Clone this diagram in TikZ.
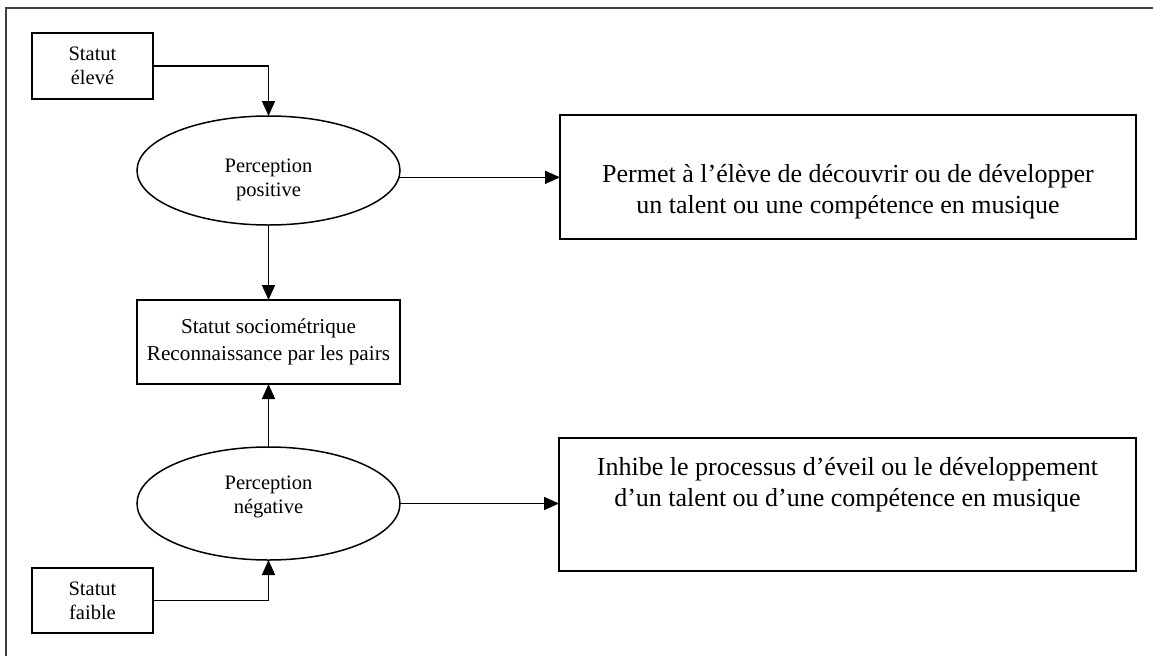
\documentclass[tikz,border=0pt]{standalone}
\usepackage{fontspec}
\setmainfont{Liberation Serif}
\usetikzlibrary{arrows.meta,shapes.geometric}
\begin{document}
\begin{tikzpicture}[x=1pt,y=-1pt,
  every node/.style={inner sep=0pt,outer sep=0pt},
  boxnode/.style={draw,line width=1.8pt,rectangle,align=center},
  ellnode/.style={draw,line width=1.5pt,ellipse},
  bigtext/.style={font=\fontsize{26}{31}\selectfont},
  midtext/.style={font=\fontsize{21.2}{27}\selectfont},
  smalltext/.style={font=\fontsize{20.5}{24}\selectfont},
  arr/.style={line width=1.6pt,-{Triangle[length=15pt,width=13pt]}},
]
\useasboundingbox (0,0) rectangle (1153,656);
\fill[white] (0,0) rectangle (1153,656);
\draw[line width=1.8pt,black!75] (6,656) -- (6,8) -- (1153,8);

% nodes
\node[boxnode,smalltext,minimum width=121pt,minimum height=66pt] (se) at (92.5,66) {Statut\\élevé};
\node[boxnode,smalltext,minimum width=121pt,minimum height=65pt] (sf) at (92.5,600.5) {Statut\\faible};
\node[ellnode,minimum width=263pt,minimum height=109pt] (pp) at (268.5,170.5) {};
\node[smalltext,align=center] (ppt) at (268.5,180) {Perception\\positive};
\node[ellnode,minimum width=263pt,minimum height=113pt] (pn) at (268.5,503.5) {};
\node[smalltext,align=center] (pnt) at (268.5,497) {Perception\\négative};
\node[boxnode,midtext,minimum width=263pt,minimum height=84pt] (mid) at (268.5,342) {Statut sociométrique\\Reconnaissance par les pairs};
\node[boxnode,minimum width=576pt,minimum height=124pt] (rt) at (848,177) {};
\node[bigtext,align=center] (rtt) at (848,192) {Permet à l’élève de découvrir ou de développer\\un talent ou une compétence en musique};
\node[boxnode,minimum width=577pt,minimum height=133pt] (rb) at (847.5,504.5) {};
\node[bigtext,align=center] (rbt) at (847.5,485) {Inhibe le processus d’éveil ou le développement\\d’un talent ou d’une compétence en musique};

% connectors
\draw[arr] (se.east) -| (pp.north);
\draw[arr] (sf.east) -| (pn.south);
\draw[arr] (pp.south) -- (mid.north);
\draw[arr] (pn.north) -- (mid.south);
\draw[arr] (pp.-3) -- (pp.-3 -| rt.west);
\draw[arr] (pn.east) -- (pn.east -| rb.west);
\end{tikzpicture}
\end{document}
